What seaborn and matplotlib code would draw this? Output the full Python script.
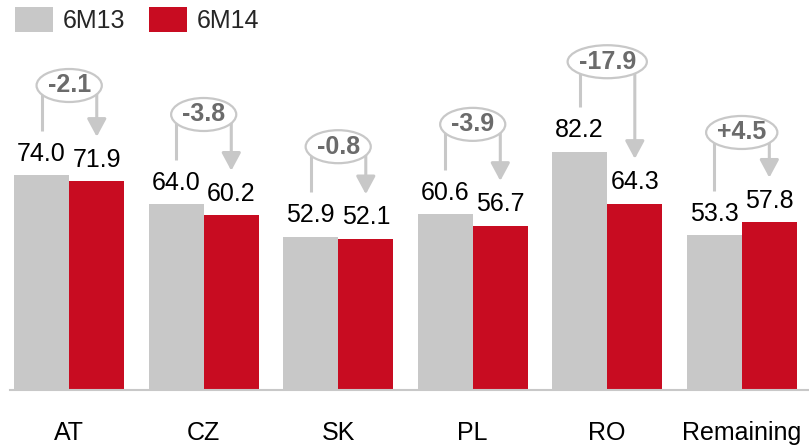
import matplotlib
matplotlib.use("Agg")
import matplotlib.pyplot as plt
import matplotlib.transforms as mtransforms
from matplotlib.patches import Ellipse
import seaborn as sns
import pandas as pd

# Operating figures by market, first half of 2013 vs first half of 2014
markets = ["AT", "CZ", "SK", "PL", "RO", "Remaining"]
values_6m13 = [74.0, 64.0, 52.9, 60.6, 82.2, 53.3]
values_6m14 = [71.9, 60.2, 52.1, 56.7, 64.3, 57.8]
periods = ["6M13", "6M14"]

GREY = "#c8c8c8"
RED = "#c80c21"
DELTA_TEXT = "#6b6b6b"

sns.set_theme(style="white")
plt.rcParams["font.family"] = ["Liberation Sans", "DejaVu Sans"]

df = pd.DataFrame({
    "market": markets * 2,
    "period": [periods[0]] * len(markets) + [periods[1]] * len(markets),
    "value": values_6m13 + values_6m14,
})

W, H, DPI = 809, 446, 100
fig = plt.figure(figsize=(W / DPI, H / DPI), dpi=DPI)
ax = fig.add_axes([10 / W, (H - 390) / H, (W - 10) / W, 390 / H])

sns.barplot(data=df, x="market", y="value", hue="period", order=markets,
            hue_order=periods, palette=[GREY, RED], width=0.82,
            saturation=1, errorbar=None, ax=ax, legend=True, linewidth=0)

ax.set_xlim(-0.44, 5.5)
ax.set_ylim(0, 390 / 2.9)
ax.set_xlabel("")
ax.set_ylabel("")
ax.set_yticks([])
ax.tick_params(axis="x", length=0, pad=22, labelsize=18, labelcolor="black")
for side in ["top", "left", "right"]:
    ax.spines[side].set_visible(False)
ax.spines["bottom"].set_color(GREY)
ax.spines["bottom"].set_linewidth(1.5)

for cont in ax.containers:
    ax.bar_label(cont, fmt="%.1f", padding=7, fontsize=18, color="black")

# legend at the top-left
handles, labels = ax.get_legend_handles_labels()
ax.legend(handles, labels, loc="upper left",
          bbox_to_anchor=(15 / W, 1 - 7 / H), bbox_transform=fig.transFigure,
          ncol=2, frameon=False, fontsize=18, borderpad=0, borderaxespad=0,
          handlelength=1.52, handleheight=1.16, handletextpad=0.4,
          columnspacing=0.92)

# change callouts: bracket from the 6M13 label to the 6M14 label
offset = 0.205
delta_texts = []
for i, (g, r) in enumerate(zip(values_6m13, values_6m14)):
    d = r - g
    top = max(g, r) + 31
    ax.plot([i - offset, i - offset, i + offset], [g + 15.4, top, top],
            color=GREY, lw=2.2, solid_capstyle="butt", zorder=3)
    ax.annotate("", xy=(i + offset, r + 15.4), xytext=(i + offset, top),
                arrowprops=dict(arrowstyle="-|>,head_length=0.54,head_width=0.29",
                                color=GREY, lw=2.2, shrinkA=0, shrinkB=0,
                                mutation_scale=20),
                zorder=3)
    t = ax.text(i, top, f"{d:+.1f}", ha="center", va="center", fontsize=18,
                fontweight="bold", color=DELTA_TEXT, zorder=6)
    delta_texts.append((i, top, t))

fig.canvas.draw()
renderer = fig.canvas.get_renderer()
for i, top, t in delta_texts:
    w_px = t.get_window_extent(renderer).width + 22
    trans = fig.dpi_scale_trans + mtransforms.ScaledTranslation(i, top, ax.transData)
    ax.add_patch(Ellipse((0, 0), w_px / DPI, 33 / DPI, transform=trans,
                         facecolor="white", edgecolor=GREY, lw=1.6, zorder=5,
                         clip_on=False))

fig.savefig("out.png", dpi=DPI)
